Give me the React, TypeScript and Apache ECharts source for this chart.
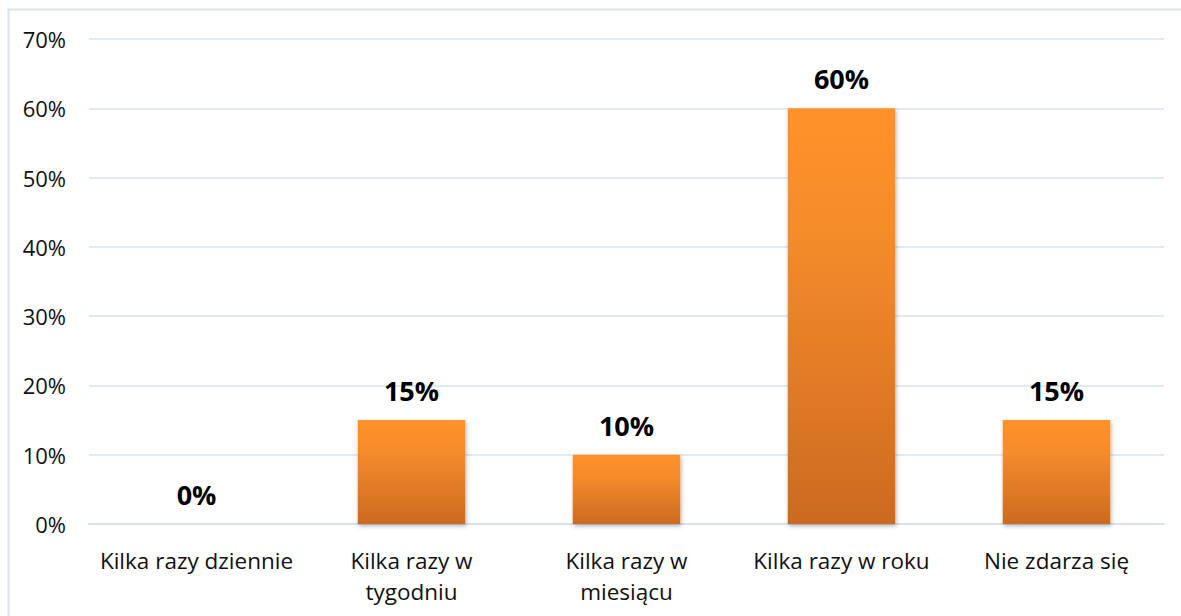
import React, { useEffect, useRef } from "react";
import * as echarts from "echarts";

const categories = [
  "Kilka razy dziennie",
  "Kilka razy w\ntygodniu",
  "Kilka razy w\nmiesiącu",
  "Kilka razy w roku",
  "Nie zdarza się",
];
const values = [0, 15, 10, 60, 15];
const yTicks = [0, 10, 20, 30, 40, 50, 60, 70];

const FONT = "'Open Sans', 'Liberation Sans', sans-serif";

export default function App() {
  const ref = useRef<HTMLDivElement>(null);
  useEffect(() => {
    if (!ref.current) return;
    const chart = echarts.init(ref.current, null, { renderer: "svg" });
    chart.setOption({
      animation: false,
      backgroundColor: "#ffffff",
      graphic: [
        {
          type: "rect",
          shape: { x: 8.5, y: 9.5, width: 1200, height: 700 },
          style: { fill: "none", stroke: "#D9E2F2", lineWidth: 2 },
          silent: true,
        },
      ],
      grid: { left: 89, right: 17, top: 39, bottom: 92, containLabel: false },
      xAxis: {
        type: "category",
        data: categories,
        axisLine: { show: true, lineStyle: { color: "#D9E2F2", width: 2 } },
        axisTick: { show: false },
        axisLabel: {
          color: "#111",
          fontFamily: FONT,
          fontSize: 22.5,
          lineHeight: 31,
          margin: 21,
          interval: 0,
        },
      },
      yAxis: {
        type: "value",
        min: yTicks[0],
        max: yTicks[yTicks.length - 1],
        interval: 10,
        axisLine: { show: false },
        axisTick: { show: false },
        splitLine: { lineStyle: { color: "#D9E2F2", width: 1.5 } },
        axisLabel: {
          color: "#111",
          fontFamily: FONT,
          fontSize: 22,
          margin: 23,
          formatter: (v: number) => v + "%",
        },
      },
      series: [
        {
          type: "bar",
          data: values,
          barWidth: "50%",
          itemStyle: {
            color: new echarts.graphic.LinearGradient(0, 0, 0, 1, [
              { offset: 0, color: "#FF922B" },
              { offset: 0.3, color: "#F58C2C" },
              { offset: 1, color: "#CC6A20" },
            ]),
            shadowColor: "rgba(0,0,0,0.3)",
            shadowBlur: 4,
            shadowOffsetX: 1,
            shadowOffsetY: 2,
          },
          label: {
            show: true,
            position: "top",
            distance: 16,
            formatter: (p: any) => p.value + "%",
            color: "#000",
            fontFamily: FONT,
            fontWeight: "bold",
            fontSize: 27,
          },
        },
      ],
    });
    return () => chart.dispose();
  }, []);
  return (
    <div
      ref={ref}
      style={{ position: "fixed", left: 0, top: 0, width: 1181, height: 616 }}
    />
  );
}
